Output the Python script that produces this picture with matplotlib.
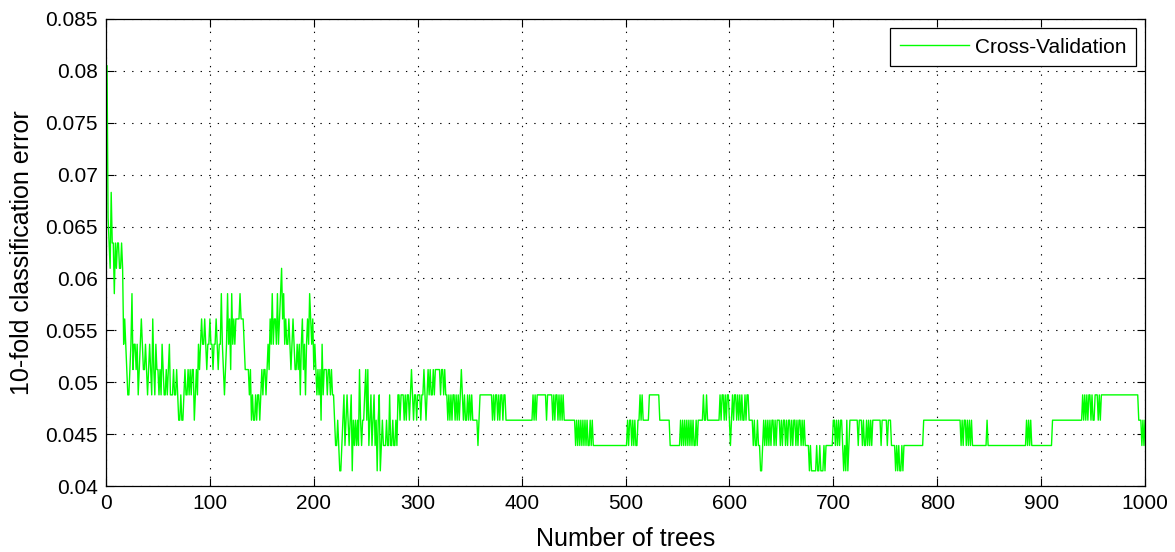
import numpy as np
import matplotlib
matplotlib.use("Agg")
import matplotlib.pyplot as plt

# ---- data: 10-fold CV error, stored as runs of (misclassified count, run length)
N_SAMPLES = 410
runs_001_200 = [
    (33,1),(27,1),(26,1),(25,1),(28,1),(26,2),(24,1),(26,1),(25,1),(26,2),(25,2),(26,1),(25,1),(22,1),(23,1),(22,1),(21,1),
    (20,2),(21,1),(22,1),(24,1),(21,1),(22,2),(21,1),(22,1),(20,1),(21,1),(22,1),(23,1),(22,1),(21,2),(22,1),(21,1),(20,1),
    (21,1),(22,1),(21,1),(20,1),(23,1),(21,1),(20,1),(22,1),(21,2),(20,1),(21,1),(20,1),(22,1),(21,1),(20,2),(21,1),(20,1),(21,1),
    (22,1),(20,3),(21,1),(20,2),(21,1),(20,1),(19,2),(20,1),(19,2),(20,1),(21,1),(20,2),(21,1),(20,1),
    (21,1),(20,1),(21,2),(19,1),(20,1),(21,1),(20,1),(22,1),(21,1),(22,1),(23,1),(22,2),(23,1),(22,1),(21,1),(22,2),(23,1),
    (22,2),(21,1),(22,2),(23,1),(22,1),(21,1),(22,2),(24,1),(22,1),(21,1),(20,1),(21,1),(22,1),(24,1),(22,1),(23,1),(21,1),
    (24,1),(22,1),(23,1),(22,1),(23,4),(24,1),(23,3),(22,1),(21,4),(20,1),(21,1),(19,1),
    (20,1),(19,2),(20,1),(19,1),(20,2),(19,1),(20,1),(21,1),(20,1),(21,2),(20,1),(21,1),(22,1),(21,1),(23,1),(22,1),(24,1),
    (22,1),(23,2),(22,1),(24,1),(22,1),(23,1),(24,1),(25,1),(23,1),(24,1),(22,1),(23,1),(22,2),(23,1),(22,1),(21,1),(22,1),(23,1),
    (22,1),(21,2),(22,1),(21,1),(22,1),(20,1),(22,1),(23,1),(21,1),(22,1),(20,1),(22,1),(23,1),(22,1),(24,1),(23,1),(22,1),(23,1),(21,1),
]
runs_201_400 = [
    (22,1),(21,1),(20,1),(21,1),(20,1),(21,1),(19,1),(22,1),(20,1),(21,3),(20,1),(21,2),(20,1),(21,1),(20,2),(19,1),
    (18,2),(19,1),(18,1),(17,2),(18,1),(19,1),(20,1),(18,1),(19,1),(20,1),(19,1),(18,1),(19,1),(20,1),(17,1),(19,1),(18,1),(19,1),
    (18,1),(19,1),(18,1),(21,1),(19,1),(18,1),(19,2),(20,1),(21,1),(19,1),(21,1),(18,1),(19,1),(20,1),(18,1),(19,1),(20,1),(18,1),(19,1),
    (17,1),(19,1),(20,1),(17,1),(18,1),(19,1),(18,3),(19,1),(18,2),(20,1),(18,2),(19,1),(18,2),(19,1),(18,1),
    (20,2),(19,1),(20,3),(19,1),(20,1),(19,1),(20,2),(19,1),(20,1),(21,1),(20,1),(19,1),(20,2),(19,1),(20,1),
    (20,2),(19,1),(20,2),(21,1),(20,1),(19,1),(20,1),(21,1),(20,1),(21,1),(20,2),(21,1),(20,1),(21,1),(21,3),
    (21,1),(20,1),(21,2),(20,1),(21,1),(20,2),(19,1),(20,1),(19,1),(20,1),(19,1),(20,2),(19,1),(20,1),(19,1),(20,1),(19,1),
    (20,1),(21,1),(20,1),(19,1),(20,1),(19,2),(20,1),(19,1),(20,1),(19,1),(20,1),(19,5),(18,1),(19,1),(20,1),
    (20,11),(19,1),(20,1),(19,1),(20,2),(19,1),(20,1),(19,1),(20,1),
    (20,1),(19,1),(20,2),(19,16),
]
runs_401_600 = [
    (19,10),(20,1),(19,1),(20,1),(19,1),(20,6),
    (20,3),(19,1),(20,5),(19,1),(20,1),(19,1),(20,2),(19,1),(20,1),(19,1),(20,1),(19,1),(20,1),
    (19,11),(18,1),(19,1),(18,1),(19,1),(18,1),(19,1),(18,1),(19,1),(18,1),
    (19,1),(18,1),(19,1),(18,2),(19,1),(18,1),(19,1),(18,12),
    (18,20),
    (18,1),(19,1),(18,1),(19,2),(18,1),(19,1),(18,1),(19,1),(18,2),(19,2),(20,1),(19,1),(20,1),(19,4),
    (19,2),(20,10),(19,8),
    (19,2),(18,10),(19,1),(18,1),(19,1),(18,1),(19,1),(18,1),(19,1),(18,1),
    (19,1),(18,1),(19,1),(18,1),(19,1),(18,2),(19,1),(18,1),(19,5),(20,1),(19,2),(20,1),(19,2),
    (19,10),(20,1),(19,1),(20,2),(19,1),(20,1),(19,1),(20,2),(19,1),
]
runs_601_800 = [
    (18,1),(19,1),(20,1),(19,1),(20,2),(19,1),(20,1),(19,1),(20,1),(19,1),(20,1),(19,2),(20,1),(19,1),(20,2),(19,2),
    (19,2),(18,1),(19,1),(18,2),(19,1),(18,2),(17,2),(18,1),(19,1),(18,1),(19,1),(18,1),(19,1),(18,1),(19,1),(18,1),
    (19,2),(18,1),(19,1),(18,1),(19,3),(18,1),(19,1),(18,1),(19,2),(18,1),(19,1),(18,1),(19,2),(18,1),(19,1),
    (18,1),(19,2),(18,1),(19,1),(18,1),(19,2),(18,1),(19,1),(18,1),(19,1),(18,4),(17,1),(18,1),(17,2),
    (17,3),(18,1),(17,2),(18,1),(17,3),(18,1),(17,1),(18,7),(19,1),
    (19,1),(18,1),(19,1),(18,1),(19,1),(18,1),(19,2),(18,1),(17,1),(18,1),(17,1),(19,1),(17,1),(18,1),(19,6),
    (19,2),(18,1),(19,3),(18,1),(19,1),(18,2),(19,1),(18,1),(19,1),(18,1),(19,1),(18,1),(19,4),
    (19,4),(18,1),(19,5),(18,1),(19,3),(18,4),(17,1),(18,1),
    (17,1),(18,1),(17,2),(18,1),(17,1),(18,14),
    (18,5),(19,15),
]
runs_801_1000 = [
    (19,20),
    (19,1),(18,1),(19,1),(18,1),(19,2),(18,1),(19,1),(18,1),(19,1),(18,1),(19,1),(18,8),
    (18,6),(19,1),(18,13),
    (18,20),
    (18,4),(19,1),(18,1),(19,1),(18,1),(19,1),(18,11),
    (18,9),(19,11),
    (19,18),(20,1),(19,1),
    (20,1),(19,1),(20,1),(19,1),(20,2),(19,1),(20,1),(19,2),(20,3),(19,1),(20,1),(19,1),(20,3),(20,1),
    (20,20),
    (20,12),(19,3),(18,1),(19,1),(18,1),(19,1),(18,1),
]
series_label = "Cross-Validation"
x_label = "Number of trees"
y_label = "10-fold classification error"
x_ticks = list(range(0, 1001, 100))
y_ticks = [0.04, 0.045, 0.05, 0.055, 0.06, 0.065, 0.07, 0.075, 0.08, 0.085]

runs = runs_001_200 + runs_201_400 + runs_401_600 + runs_601_800 + runs_801_1000
counts = np.repeat([c for c, n in runs], [n for c, n in runs])
errors = counts / N_SAMPLES
trees = np.arange(1, len(errors) + 1)

plt.rcParams['font.family'] = ['Liberation Sans', 'DejaVu Sans']

fig = plt.figure(figsize=(11.75, 5.52), dpi=100)
ax = fig.add_axes([106/1175, 1 - 486/552, (1145-106)/1175, (486-19)/552])
ax.plot(trees, errors, color='#00ff00', lw=1.0, label=series_label)

ax.set_xlim(0, 1000)
ax.set_ylim(0.04, 0.085)
ax.set_xticks(x_ticks)
ax.set_yticks(y_ticks)
ax.set_yticklabels(['%g' % v for v in y_ticks])
ax.tick_params(direction='in', length=6, width=0.8, top=True, right=True,
               labelsize=15, colors='black', pad=6)
for s in ax.spines.values():
    s.set_linewidth(0.9)
    s.set_color('black')
ax.grid(True, color='black', linestyle=(0, (1.2, 6.5)), linewidth=0.8)
ax.set_axisbelow(True)
ax.set_xlabel(x_label, fontsize=18, labelpad=10)
ax.set_ylabel(y_label, fontsize=18, labelpad=8)

leg = ax.legend(loc='upper right', fontsize=15, frameon=True, fancybox=False,
                edgecolor='black', framealpha=1, handlelength=3.3, handletextpad=0.3,
                borderpad=0.45, borderaxespad=0.45)
leg.get_frame().set_linewidth(0.9)

fig.savefig('out.png', dpi=100)
